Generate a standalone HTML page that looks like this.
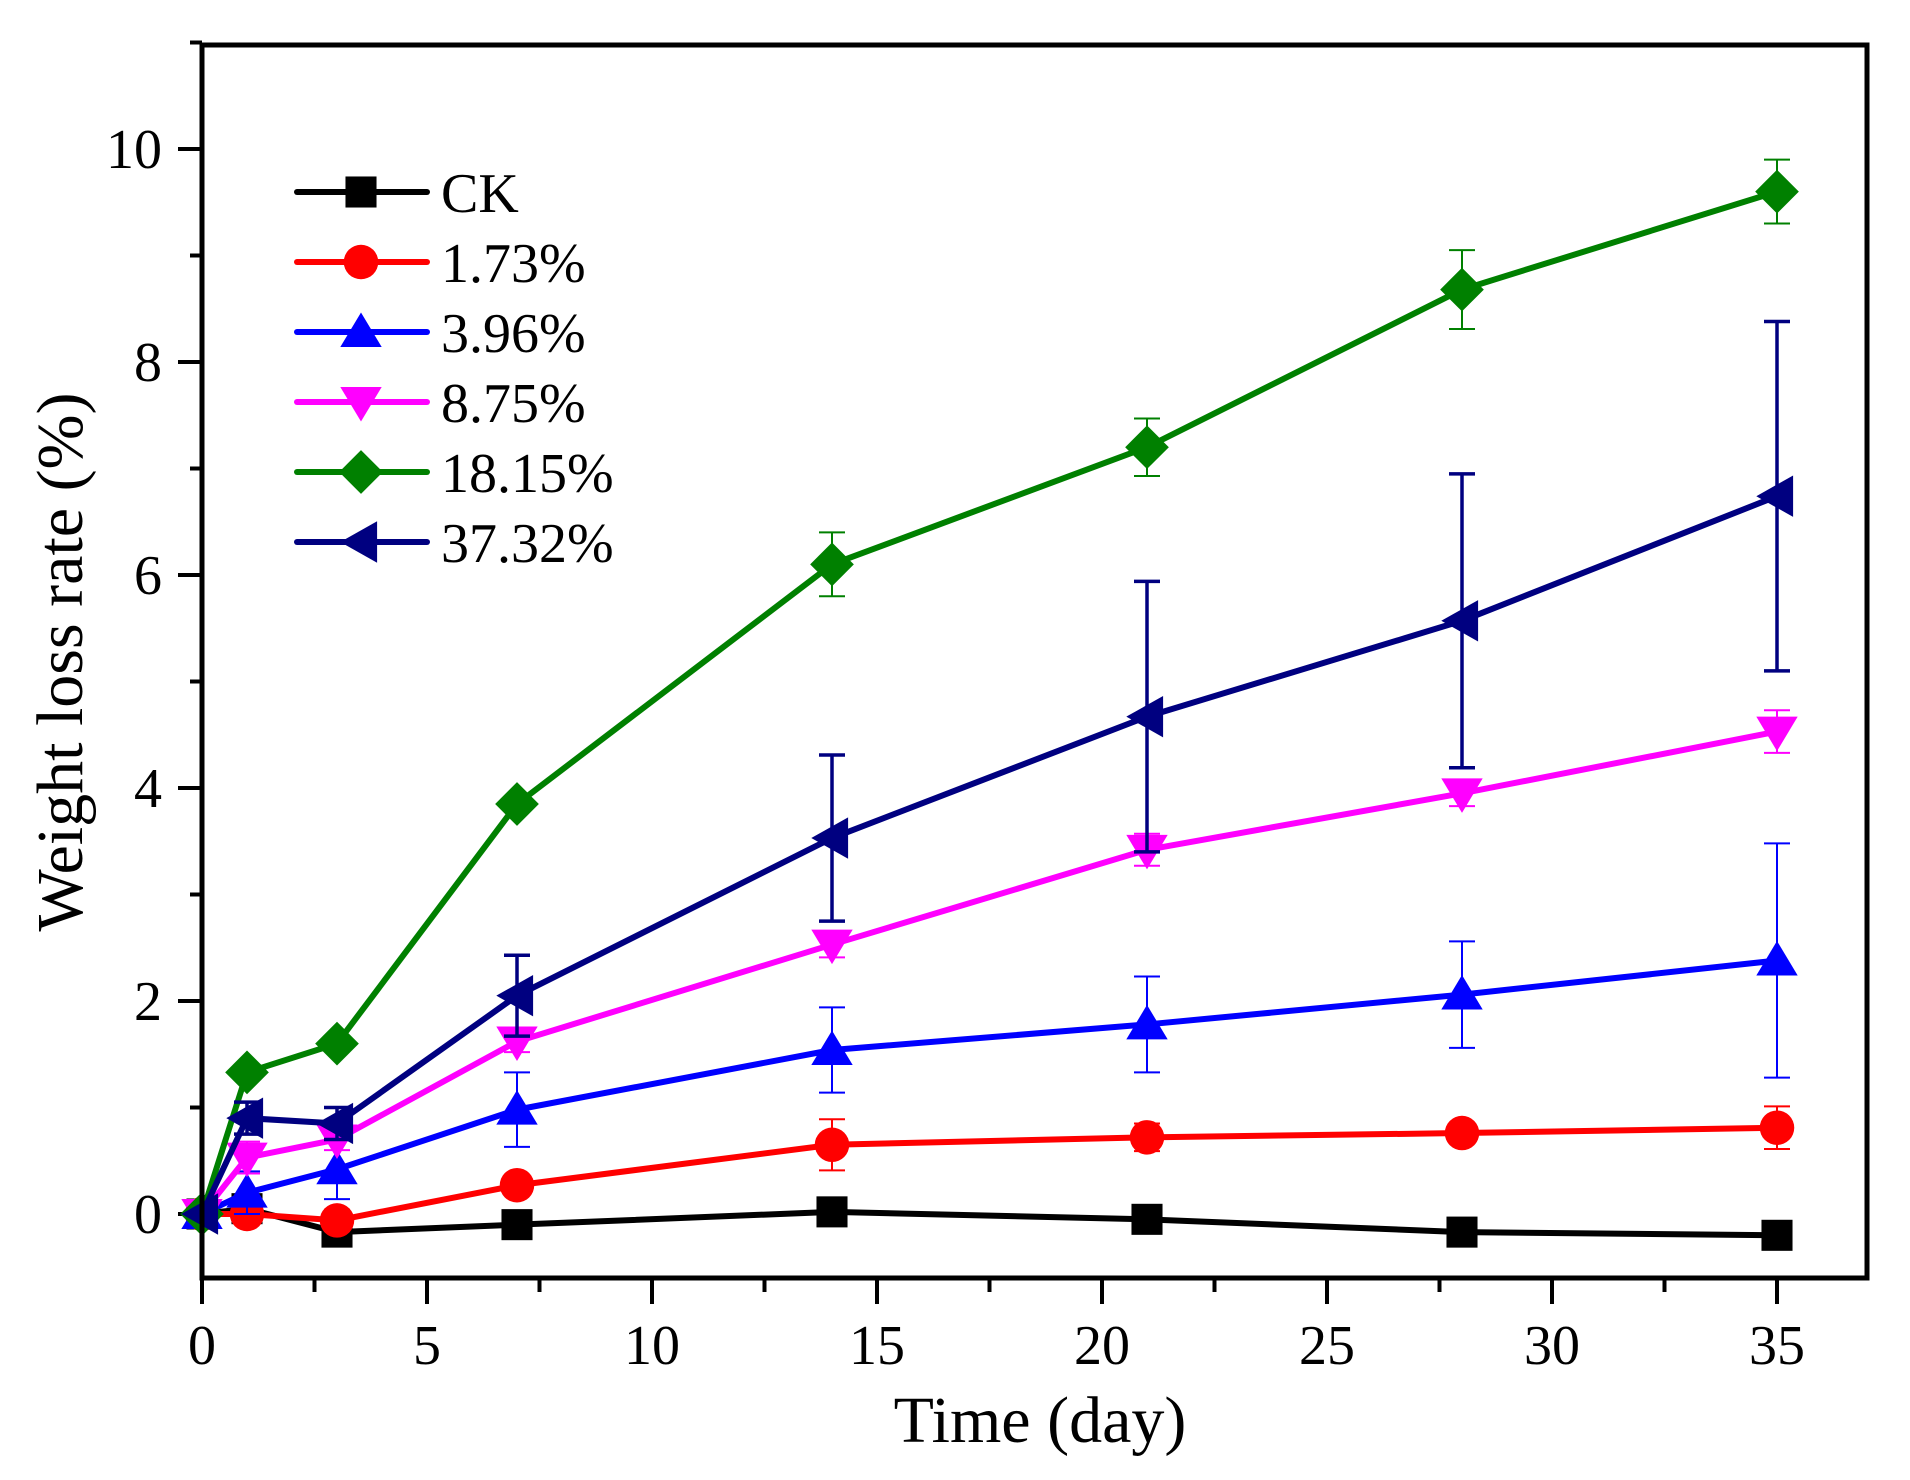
<!DOCTYPE html>
<html><head><meta charset="utf-8"><style>
html,body{margin:0;padding:0;background:#fff;}
svg{display:block;font-family:"Liberation Serif",serif;}
</style></head><body>
<svg id="chart" width="1910" height="1480" viewBox="0 0 1910 1480">
<rect width="1910" height="1480" fill="#fff"/>
<g id="axes"></g>
<g id="series"></g>
<rect x="202" y="45" width="1665" height="1233" fill="none" stroke="#000" stroke-width="5"/>
<g id="legend"></g>
<text x="1040" y="1442" font-size="66" text-anchor="middle">Time (day)</text>
<text transform="translate(82,662) rotate(-90)" font-size="66" text-anchor="middle">Weight loss rate (%)</text>
</svg>
<script>
const days = [0, 1, 3, 7, 14, 21, 28, 35];
const seriesNames = ["CK", "1.73%", "3.96%", "8.75%", "18.15%", "37.32%"];
const ckValues = [0, 0.05, -0.17, -0.1, 0.02, -0.05, -0.17, -0.2];
const ckErrors = [0, 0.05, 0.05, 0.03, 0.03, 0.03, 0.03, 0.03];
const p173Values = [0, 0, -0.06, 0.27, 0.65, 0.72, 0.76, 0.81];
const p173Errors = [0, 0.05, 0.1, 0.06, 0.24, 0.13, 0.05, 0.2];
const p396Values = [0, 0.2, 0.42, 0.98, 1.54, 1.78, 2.06, 2.38];
const p396Errors = [0, 0.2, 0.28, 0.35, 0.4, 0.45, 0.5, 1.1];
const p875Values = [0, 0.53, 0.7, 1.62, 2.53, 3.42, 3.95, 4.53];
const p875Errors = [0, 0.15, 0.1, 0.1, 0.12, 0.15, 0.12, 0.2];
const p1815Values = [0, 1.33, 1.6, 3.85, 6.1, 7.2, 8.68, 9.6];
const p1815Errors = [0, 0.05, 0.05, 0.05, 0.3, 0.27, 0.37, 0.3];
const p3732Values = [0, 0.9, 0.85, 2.05, 3.53, 4.67, 5.57, 6.74];
const p3732Errors = [0, 0.15, 0.15, 0.38, 0.78, 1.27, 1.38, 1.64];
const xTicks = [0, 5, 10, 15, 20, 25, 30, 35];
const yTicks = [0, 2, 4, 6, 8, 10];

const NS = "http://www.w3.org/2000/svg";
const X0 = 202, PXD = 45, Y0 = 1214, PXU = 106.5;
const sx = d => X0 + d * PXD;
const sy = v => Y0 - v * PXU;
function mk(tag, attrs, parent) {
  const e = document.createElementNS(NS, tag);
  for (const k in attrs) e.setAttribute(k, attrs[k]);
  parent.appendChild(e);
  return e;
}
const axes = document.getElementById("axes");
for (let d = 0; d <= 35; d += 2.5) {
  const major = d % 5 === 0;
  const t = mk("line", {x1: sx(d), x2: sx(d), y1: 1278, y2: major ? 1304 : 1292, stroke: "#000", "stroke-width": 4}, axes);
  
  
}
xTicks.forEach(d => {
  const t = mk("text", {x: sx(d), y: 1364, "font-size": 56, "text-anchor": "middle"}, axes);
  t.textContent = d;
  
  
});
for (let v = 0; v <= 11; v += 1) {
  const major = v % 2 === 0;
  const t = mk("line", {x1: major ? 178 : 190, x2: 202, y1: sy(v), y2: sy(v), stroke: "#000", "stroke-width": 4}, axes);
  
  
}
yTicks.forEach(v => {
  const t = mk("text", {x: 162, y: sy(v) + 19, "font-size": 56, "text-anchor": "end"}, axes);
  t.textContent = v;
  
  
});

function marker(type, cx, cy, color, parent, s) {
  s = s || 1.15;
  let e;
  if (type === "square") e = mk("rect", {x: cx - 13.5*s, y: cy - 13.5*s, width: 27*s, height: 27*s, fill: color}, parent);
  else if (type === "circle") e = mk("circle", {cx: cx, cy: cy, r: 15*s, fill: color}, parent);
  else if (type === "up") e = mk("polygon", {points: `${cx},${cy-17*s} ${cx+18*s},${cy+13*s} ${cx-18*s},${cy+13*s}`, fill: color}, parent);
  else if (type === "down") e = mk("polygon", {points: `${cx},${cy+17*s} ${cx+18*s},${cy-13*s} ${cx-18*s},${cy-13*s}`, fill: color}, parent);
  else if (type === "diamond") e = mk("polygon", {points: `${cx},${cy-19*s} ${cx+19*s},${cy} ${cx},${cy+19*s} ${cx-19*s},${cy}`, fill: color}, parent);
  else e = mk("polygon", {points: `${cx-18*s},${cy} ${cx+14*s},${cy-18*s} ${cx+14*s},${cy+18*s}`, fill: color}, parent);
  return e;
}

const seriesDefs = [
  {vals: ckValues, errs: ckErrors, color: "#000000", m: "square", ew: 2, id: "ck"},
  {vals: p173Values, errs: p173Errors, color: "#ff0000", m: "circle", ew: 2, id: "1-73"},
  {vals: p396Values, errs: p396Errors, color: "#0000ff", m: "up", ew: 2, id: "3-96"},
  {vals: p875Values, errs: p875Errors, color: "#ff00ff", m: "down", ew: 2, id: "8-75"},
  {vals: p1815Values, errs: p1815Errors, color: "#008000", m: "diamond", ew: 2, id: "18-15"},
  {vals: p3732Values, errs: p3732Errors, color: "#000080", m: "left", ew: 3.5, id: "37-32"}
];
const sl = document.getElementById("series");
seriesDefs.forEach(s => {
  const g = mk("g", {}, sl);
  
  
  days.forEach((d, i) => {
    const e = s.errs[i];
    if (e <= 0) return;
    const x = sx(d), y1 = sy(s.vals[i] + e), y2 = sy(s.vals[i] - e);
    const eb = mk("path", {d: `M${x},${y1}V${y2}M${x-13},${y1}H${x+13}M${x-13},${y2}H${x+13}`, stroke: s.color, "stroke-width": s.ew, fill: "none"}, g);
    
    
  });
  const pts = days.map((d, i) => sx(d) + "," + sy(s.vals[i])).join(" ");
  const ln = mk("polyline", {points: pts, fill: "none", stroke: s.color, "stroke-width": 6, "stroke-linejoin": "round"}, g);
  
  
  days.forEach((d, i) => {
    const p = marker(s.m, sx(d), sy(s.vals[i]), s.color, g);
    
    
  });
});

const lg = document.getElementById("legend");
seriesDefs.forEach((s, i) => {
  const y = 192 + i * 70;
  const g = mk("g", {}, lg);
  
  
  mk("line", {x1: 297, x2: 427, y1: y, y2: y, stroke: s.color, "stroke-width": 6, "stroke-linecap": "round"}, g);
  marker(s.m, 361, y, s.color, g);
  const t = mk("text", {x: 441, y: y + 20, "font-size": 56}, g);
  t.textContent = seriesNames[i];
});
</script>
</body></html>
